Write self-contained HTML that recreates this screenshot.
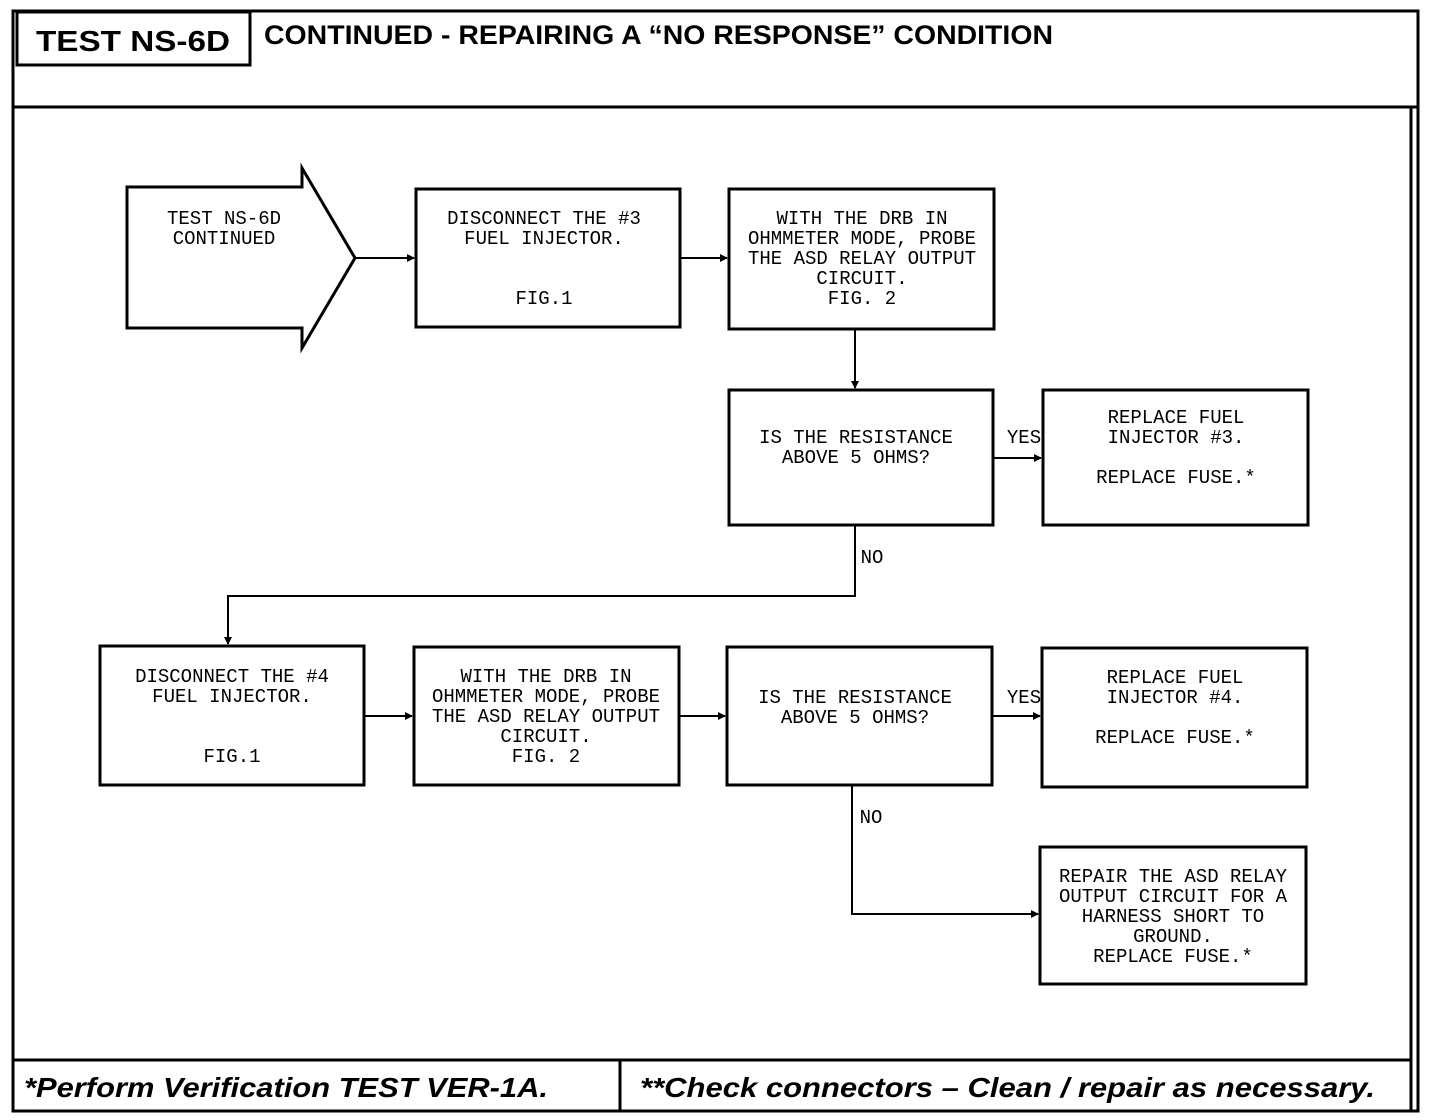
<!DOCTYPE html>
<html><head><style>
body{margin:0;background:#fff;}
svg{display:block}
.t{font-family:"Liberation Mono",monospace;font-size:19px;fill:#000;text-anchor:middle;}
.h{font-family:"Liberation Sans",sans-serif;font-weight:bold;fill:#000;}
</style></head><body>
<svg width="1440" height="1120" viewBox="0 0 1440 1120" xmlns="http://www.w3.org/2000/svg">
<defs><marker id="a" markerWidth="8" markerHeight="8" refX="7" refY="4" orient="auto" markerUnits="userSpaceOnUse"><path d="M0,0 L8,4 L0,8 z" fill="#000"/></marker></defs>
<g fill="none" stroke="#000" stroke-width="3">
<rect x="13" y="11" width="1405" height="1100"/>
<line x1="13" y1="107" x2="1418" y2="107"/>
<rect x="17" y="12" width="233" height="53"/>
<line x1="13" y1="1060" x2="1412" y2="1060"/>
<line x1="620" y1="1060" x2="620" y2="1111"/>
<line x1="1411" y1="107" x2="1411" y2="1111"/>
<path d="M127,187 L302,187 L302,168 L355,258 L302,348 L302,328 L127,328 Z"/>
<rect x="416" y="189" width="264" height="138"/>
<rect x="729" y="189" width="265" height="140"/>
<rect x="729" y="390" width="264" height="135"/>
<rect x="1043" y="390" width="265" height="135"/>
<rect x="100" y="646" width="264" height="139"/>
<rect x="414" y="647" width="265" height="138"/>
<rect x="727" y="647" width="265" height="138"/>
<rect x="1042" y="648" width="265" height="139"/>
<rect x="1040" y="847" width="266" height="137"/>
</g>
<g fill="none" stroke="#000" stroke-width="2">
<line x1="355" y1="258" x2="414" y2="258" marker-end="url(#a)"/>
<line x1="680" y1="258" x2="727" y2="258" marker-end="url(#a)"/>
<line x1="855" y1="329" x2="855" y2="388" marker-end="url(#a)"/>
<line x1="993" y1="458" x2="1041" y2="458" marker-end="url(#a)"/>
<polyline points="855,525 855,596 228,596 228,644" marker-end="url(#a)"/>
<line x1="364" y1="716" x2="412" y2="716" marker-end="url(#a)"/>
<line x1="679" y1="716" x2="725" y2="716" marker-end="url(#a)"/>
<line x1="992" y1="716" x2="1040" y2="716" marker-end="url(#a)"/>
<polyline points="852,785 852,914 1038,914" marker-end="url(#a)"/>
</g>
<text class="h" x="36" y="51" font-size="29" textLength="194" lengthAdjust="spacingAndGlyphs">TEST NS-6D</text>
<text class="h" x="264" y="44" font-size="27" textLength="789" lengthAdjust="spacingAndGlyphs">CONTINUED -  REPAIRING A “NO RESPONSE” CONDITION</text>
<text class="h" x="24" y="1097" font-size="28" font-style="italic" textLength="524" lengthAdjust="spacingAndGlyphs">*Perform Verification TEST VER-1A.</text>
<text class="h" x="640" y="1097" font-size="28" font-style="italic" textLength="735" lengthAdjust="spacingAndGlyphs">**Check connectors – Clean / repair as necessary.</text>
<g class="t">
<text x="224" y="224">TEST NS-6D</text><text x="224" y="244">CONTINUED</text>
<text x="544" y="224">DISCONNECT THE #3</text><text x="544" y="244">FUEL INJECTOR.</text><text x="544" y="304">FIG.1</text>
<text x="862" y="224">WITH THE DRB IN</text><text x="862" y="244">OHMMETER MODE, PROBE</text><text x="862" y="264">THE ASD RELAY OUTPUT</text><text x="862" y="284">CIRCUIT.</text><text x="862" y="304">FIG. 2</text>
<text x="856" y="443">IS THE RESISTANCE</text><text x="856" y="463">ABOVE 5 OHMS?</text>
<text x="1176" y="423">REPLACE FUEL</text><text x="1176" y="443">INJECTOR #3.</text><text x="1176" y="483">REPLACE FUSE.*</text>
<text x="1024" y="443">YES</text><text x="872" y="563">NO</text>
<text x="232" y="682">DISCONNECT THE #4</text><text x="232" y="702">FUEL INJECTOR.</text><text x="232" y="762">FIG.1</text>
<text x="546" y="682">WITH THE DRB IN</text><text x="546" y="702">OHMMETER MODE, PROBE</text><text x="546" y="722">THE ASD RELAY OUTPUT</text><text x="546" y="742">CIRCUIT.</text><text x="546" y="762">FIG. 2</text>
<text x="855" y="703">IS THE RESISTANCE</text><text x="855" y="723">ABOVE 5 OHMS?</text>
<text x="1024" y="703">YES</text><text x="871" y="823">NO</text>
<text x="1175" y="683">REPLACE FUEL</text><text x="1175" y="703">INJECTOR #4.</text><text x="1175" y="743">REPLACE FUSE.*</text>
<text x="1173" y="882">REPAIR THE ASD RELAY</text><text x="1173" y="902">OUTPUT CIRCUIT FOR A</text><text x="1173" y="922">HARNESS SHORT TO</text><text x="1173" y="942">GROUND.</text><text x="1173" y="962">REPLACE FUSE.*</text>
</g>
</svg>
</body></html>
